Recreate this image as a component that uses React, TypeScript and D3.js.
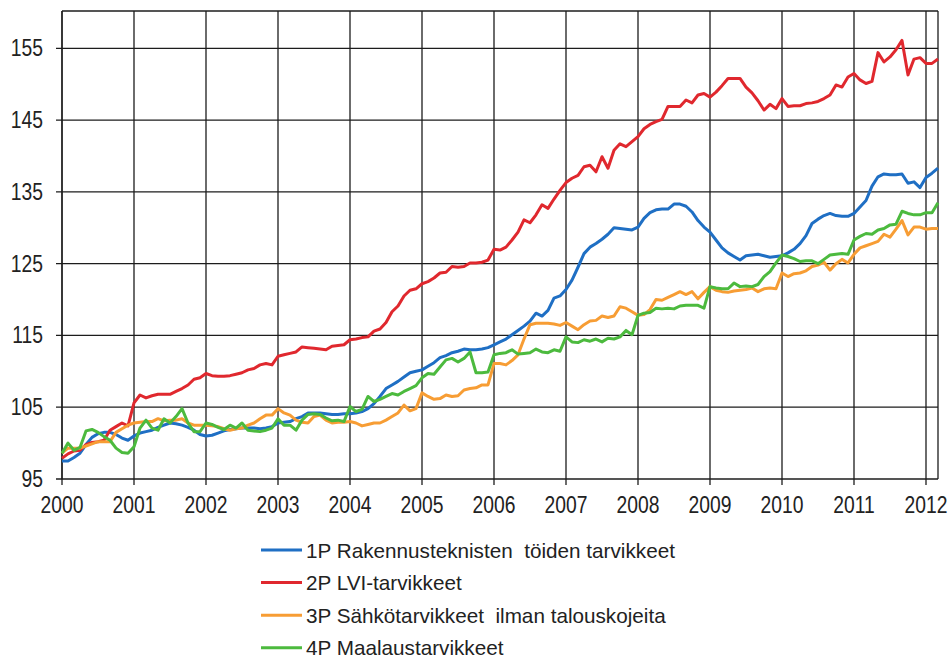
import React from "react";
import * as d3 from "d3";

const years = ["2000","2001","2002","2003","2004","2005","2006","2007","2008","2009","2010","2011","2012"];
const yTicks = [95, 105, 115, 125, 135, 145, 155];

const seriesNames = [
  "1P Rakennusteknisten  töiden tarvikkeet",
  "2P LVI-tarvikkeet",
  "3P Sähkötarvikkeet  ilman talouskojeita",
  "4P Maalaustarvikkeet",
];
const seriesColors = ["#1f6fc4", "#e0282e", "#f79d34", "#4cba3e"];

// Monthly index values, Jan 2000 - Mar 2012
const rakennus = [
  97.5, 97.5, 98.0, 98.6, 99.8, 100.8, 101.3, 101.5, 101.5, 101.2, 100.7, 100.4,
  101.0, 101.4, 101.6, 101.8, 102.2, 102.5, 102.8, 102.7, 102.5, 102.2, 101.8, 101.2,
  101.0, 101.1, 101.4, 101.7, 101.9, 102.0, 102.1, 102.1, 102.1, 102.0, 102.1, 102.3,
  102.8, 102.9, 103.0, 103.4, 103.7, 104.2, 104.2, 104.2, 104.1, 104.0, 104.0, 104.1,
  104.1, 104.2, 104.4, 104.8, 105.5, 106.5, 107.6, 108.1, 108.6, 109.2, 109.8, 110.0,
  110.2, 110.7, 111.2, 111.9, 112.2, 112.6, 112.8, 113.1, 113.0, 113.0, 113.1, 113.3,
  113.7, 114.1, 114.5, 115.1, 115.7, 116.3, 117.0, 118.1, 117.7, 118.5, 120.2, 120.5,
  121.4, 122.7, 124.5, 126.4, 127.3, 127.8, 128.4, 129.1, 130.0, 129.9, 129.8, 129.7,
  130.1, 131.3, 132.1, 132.5, 132.6, 132.6, 133.3, 133.3, 133.0, 132.2, 131.0, 130.1,
  129.4, 128.3, 127.2, 126.5, 126.0, 125.5, 126.1, 126.2, 126.3, 126.1, 125.9, 126.0,
  126.1, 126.5, 127.0, 127.8, 128.9, 130.6, 131.2, 131.7, 132.0, 131.7, 131.6, 131.6,
  132.0, 132.9, 133.8, 135.8, 137.1, 137.5, 137.4, 137.4, 137.5, 136.2, 136.4, 135.6,
  137.0, 137.6, 138.3,
];
const lvi = [
  97.9, 98.5, 98.9, 99.0, 99.8, 100.1, 100.2, 100.4, 101.8, 102.3, 102.8, 102.4,
  105.6, 106.7, 106.3, 106.6, 106.8, 106.8, 106.8, 107.2, 107.6, 108.1, 108.9, 109.1,
  109.7, 109.4, 109.3, 109.3, 109.4, 109.6, 109.8, 110.2, 110.4, 110.9, 111.1, 110.9,
  112.1, 112.3, 112.5, 112.7, 113.4, 113.3, 113.2, 113.1, 113.0, 113.5, 113.6, 113.7,
  114.4, 114.5, 114.7, 114.8, 115.6, 115.9, 116.8, 118.3, 119.1, 120.5, 121.3, 121.5,
  122.2, 122.5, 123.0, 123.7, 123.8, 124.6, 124.5, 124.6, 125.1, 125.1, 125.2, 125.5,
  127.0, 126.9, 127.3, 128.3, 129.4, 131.1, 130.7, 131.8, 133.2, 132.7, 134.0, 135.2,
  136.3, 136.9, 137.3, 138.5, 138.7, 137.8, 139.9, 138.3, 140.8, 141.7, 141.3, 142.0,
  142.7, 143.8, 144.4, 144.8, 145.1, 146.9, 146.9, 146.9, 147.8, 147.4, 148.5, 148.7,
  148.2, 148.9, 149.8, 150.8, 150.8, 150.8, 149.6, 148.8, 147.7, 146.4, 147.2, 146.6,
  148.0, 146.9, 147.0, 147.0, 147.3, 147.4, 147.6, 148.0, 148.5, 149.9, 149.6, 151.0,
  151.5, 150.6, 150.1, 150.4, 154.4, 153.1, 153.8, 154.8, 156.1, 151.3, 153.5, 153.7,
  152.9, 152.9, 153.5,
];
const sahko = [
  98.6, 99.3, 99.3, 99.3, 99.6, 99.9, 100.2, 100.2, 100.2, 101.5, 102.0, 102.5,
  102.8, 102.9, 103.0, 103.0, 103.4, 103.1, 103.2, 103.2, 103.4, 102.8, 102.5, 102.5,
  102.5, 102.4, 102.3, 102.0, 101.8, 102.0, 102.1, 102.5, 102.8, 103.4, 103.9, 103.9,
  104.8, 104.2, 103.9, 103.2, 102.9, 102.8, 103.7, 103.9, 103.2, 102.8, 102.9, 102.9,
  103.0, 102.8, 102.4, 102.6, 102.8, 102.8, 103.2, 103.7, 104.2, 105.3, 104.5, 104.8,
  107.0, 106.5, 106.1, 106.2, 106.7, 106.5, 106.6, 107.4, 107.6, 107.7, 108.1, 108.1,
  111.1, 111.1, 110.9, 111.5, 112.3, 114.5, 116.5, 116.7, 116.7, 116.7, 116.6, 116.4,
  116.8, 116.3, 115.8, 116.5, 117.0, 117.1, 117.7, 117.5, 117.7, 119.0, 118.8, 118.3,
  117.8, 117.9, 118.6, 120.0, 119.9, 120.3, 120.7, 121.1, 120.7, 121.1, 120.1, 121.0,
  121.8, 121.3, 121.1, 121.0, 121.2, 121.3, 121.4, 121.6, 121.1, 121.5, 121.6, 121.5,
  123.7, 123.2, 123.6, 123.7, 124.0, 124.6, 124.8, 125.2, 124.1, 125.0, 125.6, 125.1,
  126.3, 127.2, 127.5, 127.8, 128.1, 129.1, 128.7, 129.8, 131.0, 129.0, 130.1, 130.1,
  129.8, 129.9, 129.9,
];
const maalaus = [
  98.6, 100.0, 99.0, 99.4, 101.7, 101.9, 101.5, 100.9, 100.4, 99.3, 98.7, 98.6,
  99.5, 102.1, 103.2, 102.1, 101.8, 103.4, 102.8, 103.7, 104.8, 102.8, 101.6, 101.6,
  102.8, 102.6, 102.2, 101.9, 102.5, 102.1, 102.8, 101.8, 101.7, 101.6, 101.8, 102.1,
  103.4, 102.5, 102.5, 101.8, 103.2, 104.0, 104.1, 104.0, 103.5, 103.1, 103.2, 103.0,
  105.1, 104.4, 104.7, 106.5, 105.8, 106.1, 106.5, 106.9, 106.7, 107.2, 107.6, 108.0,
  109.1, 109.7, 109.6, 110.6, 111.6, 111.8, 111.3, 111.8, 112.7, 109.8, 109.8, 109.9,
  112.3, 112.5, 112.6, 113.0, 112.4, 112.5, 112.6, 113.1, 112.7, 112.6, 113.0, 112.8,
  114.8, 114.1, 114.0, 114.4, 114.2, 114.5, 114.1, 114.6, 114.5, 114.8, 115.7, 115.1,
  117.8, 118.1, 118.2, 118.8, 118.7, 118.8, 118.7, 119.1, 119.2, 119.2, 119.2, 118.8,
  121.8, 121.6, 121.5, 121.5, 122.3, 121.8, 121.9, 121.8, 122.1, 123.2, 123.9, 125.1,
  126.2, 126.0, 125.7, 125.3, 125.4, 125.4, 125.0, 125.6, 126.2, 126.3, 126.4, 126.3,
  128.3, 128.8, 129.2, 129.1, 129.7, 129.9, 130.4, 130.5, 132.3, 132.0, 131.8, 131.8,
  132.1, 132.1, 133.5,
];

const allSeries = [rakennus, lvi, sahko, maalaus];

const W = 952, H = 661;
const left = 62, right = 938, top = 11, bottom = 479;

export default function App() {
  const n = rakennus.length;
  const x = d3.scaleLinear().domain([0, n - 1]).range([left, right]);
  const y = d3.scaleLinear().domain([95, 160.2]).range([bottom, top]);
  const line = d3.line<number>().x((_, i) => x(i)).y((d) => y(d));
  const font = "'Liberation Sans', Arial, sans-serif";
  const grid = "#1c1c1c";

  return (
    <svg width={W} height={H} style={{ position: "absolute", left: 0, top: 0, background: "#fff" }}>
      <rect x={0} y={0} width={W} height={H} fill="#fff" />
      {yTicks.map((t) => (
        <g key={t}>
          <line x1={left - 6} x2={right} y1={y(t)} y2={y(t)} stroke={grid} strokeWidth={1.3} />
          <text
            transform={`translate(${left - 19},${y(t) + 8}) scale(0.84,1)`}
            textAnchor="end"
            fontFamily={font}
            fontSize={23}
            fill="#222"
          >
            {t}
          </text>
        </g>
      ))}
      {years.map((yr, k) => (
        <g key={yr}>
          <line x1={x(k * 12)} x2={x(k * 12)} y1={top} y2={bottom + 6} stroke={grid} strokeWidth={1.3} />
          <text
            transform={`translate(${x(k * 12)},${bottom + 34}) scale(0.84,1)`}
            textAnchor="middle"
            fontFamily={font}
            fontSize={23}
            fill="#222"
          >
            {yr}
          </text>
        </g>
      ))}
      <line x1={left} x2={right} y1={top} y2={top} stroke={grid} strokeWidth={1.3} />
      <line x1={right} x2={right} y1={top} y2={bottom} stroke={grid} strokeWidth={1.3} />
      <line x1={left} x2={left} y1={top} y2={bottom} stroke={grid} strokeWidth={1.3} />
      {allSeries.map((s, i) => (
        <path key={i} d={line(s) || ""} fill="none" stroke={seriesColors[i]} strokeWidth={3} strokeLinejoin="round" />
      ))}
      {seriesNames.map((name, i) => {
        const ly = 550 + i * 32.6;
        return (
          <g key={name}>
            <line x1={261} x2={302} y1={ly} y2={ly} stroke={seriesColors[i]} strokeWidth={3} />
            <text
              transform={`translate(306,${ly + 7.5}) scale(1.01,1)`}
              fontFamily={font}
              fontSize={20.5}
              fill="#222"
              style={{ whiteSpace: "pre" }}
            >
              {name}
            </text>
          </g>
        );
      })}
    </svg>
  );
}
